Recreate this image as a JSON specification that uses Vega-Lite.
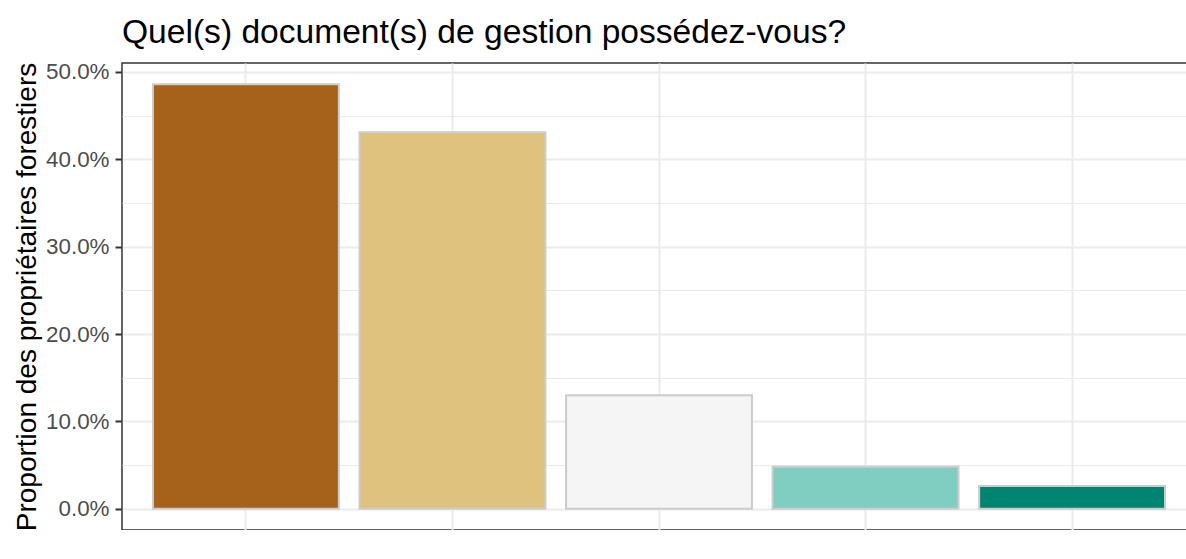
{
  "$schema": "https://vega.github.io/schema/vega-lite/v6.json",
  "width": 1074,
  "height": 467,
  "autosize": {"type": "none"},
  "padding": {"left": 122, "top": 63, "right": 0, "bottom": 0},
  "background": "white",
  "title": {
    "text": "Quel(s) document(s) de gestion possédez-vous?",
    "anchor": "start",
    "frame": "group",
    "fontSize": 33.6,
    "fontWeight": "normal",
    "color": "black",
    "baseline": "alphabetic",
    "offset": 21,
    "dy": 37
  },
  "data": {
    "values": [
      {"doc": "PSG", "prop": 0.486},
      {"doc": "CBPS", "prop": 0.431},
      {"doc": "Nodocs", "prop": 0.130},
      {"doc": "RTG", "prop": 0.048},
      {"doc": "NSP", "prop": 0.026}
    ]
  },
  "encoding": {
    "x": {
      "field": "doc",
      "type": "nominal",
      "sort": ["PSG", "CBPS", "Nodocs", "RTG", "NSP"],
      "scale": {"paddingInner": 0.1, "paddingOuter": 0.15},
      "axis": {
        "title": null,
        "labelAngle": 0,
        "labelFontSize": 22.4,
        "labelColor": "#4D4D4D",
        "tickColor": "#333333",
        "tickSize": 7,
        "tickWidth": 2,
        "labelPadding": 4,
        "domain": false,
        "grid": true,
        "gridColor": "#EBEBEB",
        "gridWidth": 2,
        "bandPosition": 0.5
      }
    }
  },
  "layer": [
    {
      "mark": {"type": "tick", "opacity": 0},
      "encoding": {
        "y": {
          "field": "prop",
          "type": "quantitative",
          "scale": {"domain": [-0.0243, 0.5103], "nice": false, "zero": false},
          "axis": {
            "orient": "right",
            "values": [0.05, 0.15, 0.25, 0.35, 0.45],
            "labels": false,
            "ticks": false,
            "domain": false,
            "title": null,
            "grid": true,
            "gridColor": "#EBEBEB",
            "gridWidth": 1
          }
        }
      }
    },
    {
      "mark": {"type": "bar", "stroke": "#CCCCCC", "strokeWidth": 2},
      "encoding": {
        "y": {
          "field": "prop",
          "type": "quantitative",
          "scale": {"domain": [-0.0243, 0.5103], "nice": false, "zero": false},
          "axis": {
            "values": [0, 0.1, 0.2, 0.3, 0.4, 0.5],
            "format": ".1%",
            "title": "Proportion des propriétaires forestiers",
            "titleFontSize": 28,
            "titleFontWeight": "normal",
            "titleColor": "black",
            "titleX": -87,
            "titleY": 233.5,
            "titleAngle": -90,
            "titleAlign": "center",
            "titleBaseline": "alphabetic",
            "labelFontSize": 22.4,
            "labelColor": "#4D4D4D",
            "tickColor": "#333333",
            "tickSize": 7,
            "tickWidth": 2,
            "labelPadding": 6,
            "domain": false,
            "grid": true,
            "gridColor": "#EBEBEB",
            "gridWidth": 2
          }
        },
        "y2": {"datum": 0},
        "color": {
          "field": "doc",
          "type": "nominal",
          "scale": {
            "domain": ["PSG", "CBPS", "Nodocs", "RTG", "NSP"],
            "range": ["#A6611A", "#DFC27D", "#F5F5F5", "#80CDC1", "#018571"]
          },
          "legend": null
        }
      }
    }
  ],
  "resolve": {"axis": {"y": "independent"}},
  "config": {
    "font": "Liberation Sans",
    "view": {"stroke": "#333333", "strokeWidth": 1.5}
  }
}
